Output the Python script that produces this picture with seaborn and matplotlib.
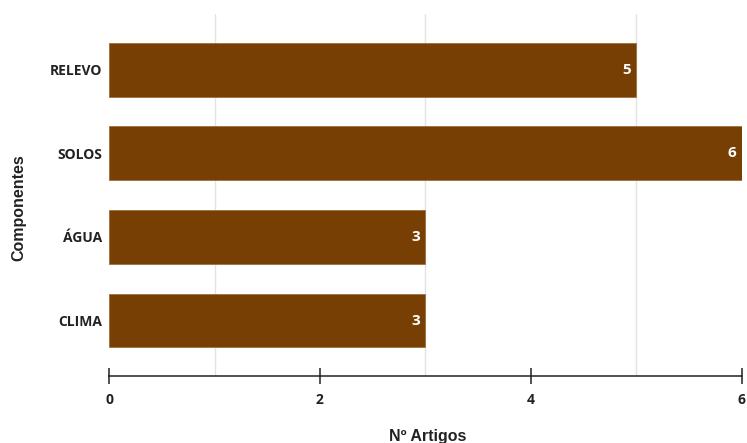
import matplotlib
matplotlib.use("Agg")
import matplotlib.pyplot as plt
from matplotlib.ticker import FixedLocator
import seaborn as sns
import pandas as pd

componentes = ["RELEVO", "SOLOS", "ÁGUA", "CLIMA"]
n_artigos = [5, 6, 3, 3]
x_ticks = [0, 2, 4, 6]
grid_lines = [1, 3, 5]

df = pd.DataFrame({"Componentes": componentes, "Nº Artigos": n_artigos})

sns.set_theme(style="white")
plt.rcParams["font.family"] = ["Open Sans", "DejaVu Sans"]

fig = plt.figure(figsize=(7.47, 4.43), dpi=100)
ax = fig.add_axes([0.146, 0.151, 0.847, 0.817])

bar_color = "#783f04"
sns.barplot(data=df, y="Componentes", x="Nº Artigos", orient="h",
            color=bar_color, saturation=1, width=0.645, ax=ax,
            edgecolor="#a0703f", linewidth=0.6)

ax.set_xlim(0, 6)
ax.set_ylim(3.665, -0.665)

# value labels inside the bar ends
for i, v in enumerate(n_artigos):
    ax.annotate(str(v), xy=(v, i), xytext=(-4, 0), textcoords="offset points",
                ha="right", va="center", color="white", fontsize=11,
                fontweight="bold", family=["Open Sans", "DejaVu Sans"])

ax.set_xticks(x_ticks)
ax.xaxis.set_minor_locator(FixedLocator(grid_lines))
ax.grid(False)
ax.grid(which="minor", axis="x", color="#e3e3e3", linewidth=1)
ax.tick_params(axis="x", which="minor", length=0, bottom=False)
ax.tick_params(axis="x", which="major", bottom=True, direction="inout",
               length=11, width=1.1, color="#222222", pad=7, labelsize=10,
               labelcolor="#222222")
ax.tick_params(axis="y", left=False, length=0, pad=5, labelsize=10,
               labelcolor="#222222")
for lbl in ax.get_xticklabels() + ax.get_yticklabels():
    lbl.set_fontweight("bold")

for side in ["top", "right", "left"]:
    ax.spines[side].set_visible(False)
ax.spines["bottom"].set_color("#222222")
ax.spines["bottom"].set_linewidth(1.1)
ax.set_axisbelow(True)

ax.set_xlabel("Nº Artigos", fontsize=11.5, fontweight="bold",
              family=["Liberation Sans", "DejaVu Sans"], color="#222222")
ax.set_ylabel("Componentes", fontsize=11.5, fontweight="bold",
              family=["Liberation Sans", "DejaVu Sans"], color="#222222")
ax.xaxis.set_label_coords(0.503, -0.147)
ax.yaxis.set_label_coords(-0.13, 0.465)

fig.savefig("out.png", dpi=100, facecolor="white")
